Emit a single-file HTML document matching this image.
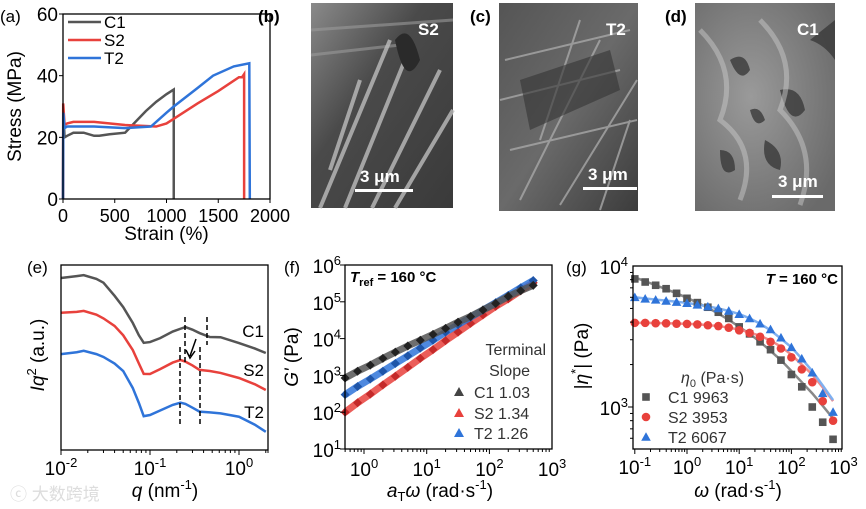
<!DOCTYPE html>
<html><head><meta charset="utf-8"><style>
html,body{margin:0;padding:0;background:#fff;}
svg{display:block;font-family:"Liberation Sans",Arial,sans-serif;}
</style></head><body>
<svg id="fig" width="866" height="509" viewBox="0 0 866 509" xmlns="http://www.w3.org/2000/svg">
<defs>
<linearGradient id="gb" x1="0" y1="0" x2="1" y2="1"><stop offset="0" stop-color="#8a8a8a"/><stop offset="0.4" stop-color="#4a4a4a"/><stop offset="1" stop-color="#3a3a3a"/></linearGradient>
<linearGradient id="gc" x1="0" y1="0" x2="1" y2="1"><stop offset="0" stop-color="#555"/><stop offset="0.5" stop-color="#6a6a6a"/><stop offset="1" stop-color="#3c3c3c"/></linearGradient>
<radialGradient id="gd" cx="0.4" cy="0.45" r="0.7"><stop offset="0" stop-color="#9a9a9a"/><stop offset="1" stop-color="#6a6a6a"/></radialGradient>
</defs>

<g>
<rect x="311" y="3" width="142" height="205" fill="url(#gb)"/>
<path d="M311 30 L453 20 M311 55 L400 45" stroke="#9a9a9a" stroke-width="3" opacity="0.6"/>
<path d="M320 208 L390 40 M345 208 L405 60 M372 208 L440 70 M395 208 L453 110 M330 170 L360 80" stroke="#bdbdbd" stroke-width="4" fill="none" opacity="0.8"/>
<path d="M395 40 Q410 20 420 60 Q405 90 395 40Z" fill="#2a2a2a"/>
<text x="418" y="35" fill="#fff" font-size="17" font-weight="bold">S2</text>
<text x="360" y="182" fill="#fff" font-size="17" font-weight="bold">3 μm</text>
<rect x="355" y="189" width="58" height="3" fill="#fff"/>
</g>
<text x="258" y="22" font-size="17" font-weight="bold">(b)</text>

<g>
<rect x="499" y="3" width="139" height="208" fill="url(#gc)"/>
<path d="M505 60 L630 30 M500 100 L620 70 M510 150 L637 120 M520 200 L600 40 M560 205 L637 80 M540 140 L580 20 M600 210 L630 120" stroke="#a8a8a8" stroke-width="2" fill="none" opacity="0.8"/>
<path d="M520 80 L610 50 L620 90 L530 130Z" fill="#333" opacity="0.6"/>
<text x="606" y="35" fill="#fff" font-size="17" font-weight="bold">T2</text>
<text x="588" y="180" fill="#fff" font-size="17" font-weight="bold">3 μm</text>
<rect x="583" y="187" width="54" height="3" fill="#fff"/>
</g>
<text x="470" y="22" font-size="17" font-weight="bold">(c)</text>

<g>
<rect x="695" y="3" width="140" height="208" fill="url(#gd)"/>
<path d="M730 60 q15 -10 20 10 q-10 15 -20 -10Z M780 90 q20 -5 25 20 q-15 20 -25 -20Z M720 150 q15 0 15 20 q-15 10 -15 -20Z M765 140 q20 10 15 30 q-20 -5 -15 -30Z M810 40 q15 5 25 20 l0 -40Z M750 110 q10 -5 15 10 q-10 10 -15 -10Z" fill="#3a3a3a" opacity="0.8"/>
<path d="M700 30 Q740 70 720 120 Q760 150 740 200 M760 20 Q800 60 780 110 Q820 150 800 205" stroke="#c8c8c8" stroke-width="5" fill="none" opacity="0.5"/>
<text x="797" y="35" fill="#fff" font-size="17" font-weight="bold">C1</text>
<text x="778" y="187" fill="#fff" font-size="17" font-weight="bold">3 μm</text>
<rect x="772" y="195" width="51" height="3" fill="#fff"/>
</g>
<text x="665" y="22" font-size="17" font-weight="bold">(d)</text>

<text x="10" y="500" font-size="17" fill="#ddd" font-family="'Liberation Sans','Noto Sans CJK SC',sans-serif">ⓒ 大数跨境</text>
</svg>
<script>
// ---------- Panel (a) data ----------
const aStrainC1 = [0,3,15,40,100,200,300,350,450,600,700,800,900,1000,1070,1070];
const aStressC1 = [0,28,20,20.5,21.5,21.5,20.5,20.5,21,21.5,25,28.5,31.5,34,35.5,0];
const aStrainS2 = [0,2,15,40,100,300,600,900,1000,1070,1300,1500,1700,1730,1750,1750];
const aStressS2 = [0,31,24,24.5,25,25,24,23.5,24.5,26,31,35,39.5,39.5,40.5,0];
const aStrainT2 = [0,3,15,40,300,600,850,1000,1070,1300,1450,1650,1800,1805];
const aStressT2 = [0,28,23,23.5,23.5,23,23.5,28,30,36,40,43,44,0];
const aXTicks = [0,500,1000,1500,2000];
const aYTicks = [0,20,40,60];
// ---------- Panel (e) data ----------
const eQ = [0.01,0.015,0.018,0.025,0.03,0.04,0.05,0.064,0.075,0.085,0.1,0.13,0.18,0.22,0.25,0.3,0.36,0.47,0.62,1.0,1.5,2.0];
const eC1 = [9.15,9.25,9.3,9.1,8.9,8.2,7.6,6.76,6.1,5.7,5.74,5.95,6.3,6.45,6.54,6.4,6.22,6.01,6.0,5.69,5.4,5.16];
const eS2 = [7.3,7.35,7.4,7.2,7.0,6.6,6.1,5.32,4.6,4.05,4.04,4.3,4.65,4.79,4.7,4.5,4.26,4.2,4.1,3.83,3.5,3.19];
const eT2 = [5.1,5.2,5.28,5.1,4.95,4.6,4.2,3.3,2.5,1.8,1.86,2.1,2.4,2.52,2.45,2.25,2.04,2.0,1.95,1.77,1.35,0.97];
const eXTickExp = [-2,-1,0];
// ---------- Panel (f) data ----------
const fW = [0.5,0.79,1.26,2,3.16,5,7.9,12.6,20,31.6,50,79,126,200,316,500];
const fC1 = [850,1300,1900,2900,4300,6300,9000,13000,19000,28000,40000,60000,90000,140000,200000,280000];
const fS2 = [100,180,310,550,950,1650,2900,5000,8800,15000,26000,44000,75000,120000,200000,330000];
const fT2 = [300,500,800,1300,2100,3400,5500,9000,15000,24000,38000,60000,95000,150000,240000,380000];
const fXTickExp = [0,1,2,3];
const fYTickExp = [1,2,3,4,5,6];
// ---------- Panel (g) data ----------
const gW = [0.1,0.158,0.251,0.398,0.631,1,1.58,2.51,3.98,6.31,10,15.8,25.1,39.8,63.1,100,158,251,398,628];
const gC1 = [8100,7700,7300,6900,6400,5900,5500,5100,4700,4250,3700,3300,2900,2550,2150,1700,1390,1000,780,590];
const gS2 = [3950,3950,3930,3920,3900,3880,3850,3800,3750,3650,3500,3350,3150,2900,2600,2250,1850,1500,1100,800];
const gT2 = [6000,5850,5750,5650,5550,5450,5300,5150,5000,4800,4550,4250,3900,3550,3100,2650,2200,1750,1250,920];
const gFitC1 = [8300,7800,7300,6850,6400,5950,5500,5050,4600,4150,3700,3300,2900,2500,2150,1800,1500,1250,1020,830];
const gFitS2 = [3950,3950,3940,3930,3910,3890,3860,3810,3750,3660,3540,3380,3200,2960,2680,2350,2000,1700,1380,1100];
const gFitT2 = [6000,5880,5780,5680,5580,5470,5330,5170,5000,4800,4560,4260,3900,3500,3050,2650,2200,1800,1420,1120];
const gXTickExp = [-1,0,1,2,3];
const gYTickExp = [3,4];

const NS = "http://www.w3.org/2000/svg";
const svg = document.getElementById('fig');
function mk(tag, attrs, parent){ const e=document.createElementNS(NS,tag); for(const k in attrs) e.setAttribute(k,attrs[k]); (parent||svg).appendChild(e); return e; }
function txt(x,y,s,attrs,parent){ const t=mk('text',Object.assign({x:x,y:y,'font-size':19},attrs||{}),parent); t.textContent=s; return t; }
function pow10(x,y,exp,anchor,parent){ const t=mk('text',{x:x,y:y,'font-size':19,'text-anchor':anchor},parent); t.appendChild(document.createTextNode('10')); const s=document.createElementNS(NS,'tspan'); s.setAttribute('dy','-8'); s.setAttribute('font-size','13'); s.textContent=String(exp); t.appendChild(s); return t; }
const GRAY='#555', RED='#e8413c', BLUE='#2f74d9';

// ===== Panel A =====
(function(){
 const g=mk('g',{});
 
 
 const L=63,R=270,T=14,B=199;
 const X=v=>L+v/2000*(R-L), Y=v=>B-v/60*(B-T);
 function line(xs,ys,c,name){ const p=mk('polyline',{points:xs.map((x,i)=>X(x)+','+Y(ys[i])).join(' '),fill:'none',stroke:c,'stroke-width':2.5},g);   }
 line(aStrainC1,aStressC1,GRAY,'series-c1');
 line(aStrainS2,aStressS2,RED,'series-s2');
 line(aStrainT2,aStressT2,BLUE,'series-t2');
 mk('rect',{x:L,y:T,width:R-L,height:B-T,fill:'none',stroke:'#000','stroke-width':1.3},g);
 aXTicks.forEach(v=>{ mk('line',{x1:X(v),x2:X(v),y1:B,y2:B+4,stroke:'#000'},g); const t=txt(X(v),B+23,String(v),{'text-anchor':'middle','font-size':18},g);   });
 aYTicks.forEach(v=>{ mk('line',{x1:L-4,x2:L,y1:Y(v),y2:Y(v),stroke:'#000'},g); const t=txt(L-5,Y(v)+7,String(v),{'text-anchor':'end'},g);   });
 const xl=txt((L+R)/2,240,'Strain (%)',{'text-anchor':'middle'},g);  
 const yl=txt(0,0,'Stress (MPa)',{'text-anchor':'middle',transform:'translate(21,'+((T+B)/2)+') rotate(-90)'},g);  
 const pl=txt(0,22,'(a)',{'font-size':17},g);  
 [['C1',GRAY,22],['S2',RED,40],['T2',BLUE,58]].forEach(([n,c,y])=>{ const le=mk('g',{},g);   mk('line',{x1:68,x2:101,y1:y,y2:y,stroke:c,'stroke-width':2.5},le); txt(104,y+6,n,{'font-size':17},le); });
})();

// ===== Panel E =====
(function(){
 const g=mk('g',{});
 
 
 const L=61,R=268,T=265,B=450;
 const X=q=>L+(Math.log10(q)+2)*89, Y=v=>B-v*18.8;
 [[eC1,GRAY,'series-c1'],[eS2,RED,'series-s2'],[eT2,BLUE,'series-t2']].forEach(([d,c,n])=>{ const p=mk('polyline',{points:eQ.map((q,i)=>X(q)+','+Y(d[i])).join(' '),fill:'none',stroke:c,'stroke-width':2.5},g);   });
 [[185,317,365],[207,317,345],[180,347,427],[200,347,427]].forEach(([x,y1,y2])=>{ const l=mk('line',{x1:x,x2:x,y1:y1,y2:y2,stroke:'#000','stroke-width':1.5,'stroke-dasharray':'5,3'},g);   });
 const ar=mk('path',{d:'M196 339 L190 356 M186 350 L190 358 L195 351',stroke:'#000','stroke-width':1.5,fill:'none'},g);  
 mk('rect',{x:L,y:T,width:R-L,height:B-T,fill:'none',stroke:'#000','stroke-width':1.3},g);
 for(let e=-2;e<=0;e++){ for(let m=1;m<10;m++){ const x=L+(e+2+Math.log10(m))*89; if(x>R+0.5) break; mk('line',{x1:x,x2:x,y1:B,y2:B+(m==1?5:3),stroke:'#000'},g);} }
 mk('line',{x1:R,x2:R,y1:B,y2:B+3,stroke:'#000'},g);
 eXTickExp.forEach(e=>{ const t=pow10(X(Math.pow(10,e)),B+25,e,'middle',g);   });
 [['C1',337],['S2',376],['T2',418]].forEach(([n,y])=>{ const t=txt(264,y,n,{'font-size':17,'text-anchor':'end'},g);   });
 const xl=mk('text',{x:165,y:497,'font-size':19,'text-anchor':'middle'},g); xl.innerHTML='<tspan font-style="italic">q</tspan> (nm<tspan dy="-8" font-size="13">-1</tspan><tspan dy="8">)</tspan>';
  
 const yl=mk('text',{'font-size':19,'text-anchor':'middle',transform:'translate(44,355) rotate(-90)'},g); yl.innerHTML='<tspan font-style="italic">Iq</tspan><tspan dy="-8" font-size="13">2</tspan><tspan dy="8"> (a.u.)</tspan>';
  
 const pl=txt(27,273,'(e)',{'font-size':17},g);  
})();

function marker(shape,x,y,c,parent,s){
 s=s||4;
 if(shape==='diamond') return mk('path',{d:`M${x} ${y-s} L${x+s} ${y} L${x} ${y+s} L${x-s} ${y}Z`,fill:c},parent);
 if(shape==='square') return mk('rect',{x:x-s,y:y-s,width:2*s,height:2*s,fill:c},parent);
 if(shape==='circle') return mk('circle',{cx:x,cy:y,r:s+0.5,fill:c},parent);
 return mk('path',{d:`M${x} ${y-s-1} L${x+s+1} ${y+s} L${x-s-1} ${y+s}Z`,fill:c},parent);
}

// ===== Panel F =====
(function(){
 const g=mk('g',{});
 
 
 const L=345,R=552,T=265,B=449;
 const X=w=>364+Math.log10(w)*62.7, Y=v=>B-(Math.log10(v)-1)*36.8;
 [[fS2,'#c42a2a',RED,'series-s2'],[fT2,'#1f55a8',BLUE,'series-t2'],[fC1,'#222',GRAY,'series-c1']].forEach(([d,dk,c,n])=>{
  const s=mk('g',{},g);  
  mk('polyline',{points:fW.map((w,i)=>X(w)+','+Y(d[i])).join(' '),fill:'none',stroke:c,'stroke-width':7,'stroke-linejoin':'round',opacity:0.85},s);
  fW.forEach((w,i)=>{ const m=marker('diamond',X(w),Y(d[i]),dk,s,4.5);   });
 });
 mk('rect',{x:L,y:T,width:R-L,height:B-T,fill:'none',stroke:'#000','stroke-width':1.3},g);
 for(let e=-1;e<3;e++) for(let m=1;m<10;m++){ const x=364+(e+Math.log10(m))*62.7; if(x<L||x>R) continue; mk('line',{x1:x,x2:x,y1:B,y2:B+(m==1?5:3),stroke:'#000'},g);}
 fXTickExp.forEach(e=>{ const t=pow10(X(Math.pow(10,e)),B+27,e,'middle',g);   });
 fYTickExp.forEach(e=>{ const y=Y(Math.pow(10,e)); mk('line',{x1:L-5,x2:L,y1:y,y2:y,stroke:'#000'},g); const t=pow10(L-4,y+8,e,'end',g);   });
 const tr=mk('text',{x:350,y:282,'font-size':15,'font-weight':'bold'},g); tr.innerHTML='<tspan font-style="italic">T</tspan><tspan font-size="11" dy="4">ref</tspan><tspan dy="-4"> = 160 °C</tspan>';
  
 const lt=txt(546,355,'Terminal',{'font-size':16,'text-anchor':'end',fill:'#333'},g);  
 txt(530,376,'Slope',{'font-size':16,'text-anchor':'end',fill:'#333'},g);
 [['C1 1.03','#444',398],['S2 1.34',RED,419],['T2 1.26',BLUE,439]].forEach(([n,c,y])=>{ const le=mk('g',{},g);   marker('tri',459,y-6,c,le,4); txt(474,y,n,{'font-size':16,fill:'#333'},le); });
 const xl=mk('text',{x:440,y:497,'font-size':19,'text-anchor':'middle'},g); xl.innerHTML='<tspan font-style="italic">a</tspan><tspan font-size="13" dy="4">T</tspan><tspan dy="-4" font-style="italic">ω</tspan> (rad·s<tspan dy="-8" font-size="13">-1</tspan><tspan dy="8">)</tspan>';
  
 const yl=mk('text',{'font-size':19,'text-anchor':'middle',transform:'translate(298,357) rotate(-90)'},g); yl.innerHTML='<tspan font-style="italic">G\'</tspan> (Pa)';
  
 const pl=txt(284,273,'(f)',{'font-size':17},g);  
})();

// ===== Panel G =====
(function(){
 const g=mk('g',{});
 
 
 const L=633,R=842,T=266,B=449;
 const X=w=>687+Math.log10(w)*52.2, Y=v=>407-(Math.log10(v)-3)*141;
 [[gFitC1,'#888','fit-c1'],[gFitS2,'#f08a8a','fit-s2'],[gFitT2,'#7fb0f0','fit-t2']].forEach(([d,c,n])=>{ const p=mk('polyline',{points:gW.map((w,i)=>X(w)+','+Y(d[i])).join(' '),fill:'none',stroke:c,'stroke-width':2.5},g);   });
 [[gC1,'square',GRAY,'series-c1'],[gS2,'circle',RED,'series-s2'],[gT2,'tri',BLUE,'series-t2']].forEach(([d,sh,c,n])=>{
  const s=mk('g',{},g);  
  gW.forEach((w,i)=>{ const m=marker(sh,X(w),Y(d[i]),c,s,3.8);   });
 });
 mk('rect',{x:L,y:T,width:R-L,height:B-T,fill:'none',stroke:'#000','stroke-width':1.3},g);
 for(let e=-1;e<3;e++) for(let m=1;m<10;m++){ const x=687+(e+Math.log10(m))*52.2; if(x<L-0.5||x>R) continue; mk('line',{x1:x,x2:x,y1:B,y2:B+(m==1?5:3),stroke:'#000'},g);}
 for(let e=2;e<4;e++) for(let m=1;m<10;m++){ const y=407-(e-3+Math.log10(m))*141; if(y<T-0.5||y>B) continue; mk('line',{x1:L-(m==1?5:3),x2:L,y1:y,y2:y,stroke:'#000'},g);}
 gXTickExp.forEach(e=>{ const t=pow10(X(Math.pow(10,e)),B+25,e,'middle',g);   });
 gYTickExp.forEach(e=>{ const t=pow10(L-5,Y(Math.pow(10,e))+8,e,'end',g);   });
 const tl=mk('text',{x:838,y:284,'font-size':15,'font-weight':'bold','text-anchor':'end'},g); tl.innerHTML='<tspan font-style="italic">T</tspan> = 160 °C';
  
 const lt=mk('text',{x:681,y:383,'font-size':16,fill:'#333'},g); lt.innerHTML='<tspan font-style="italic">η</tspan><tspan font-size="11" dy="4">0</tspan><tspan dy="-4"> (Pa·s)</tspan>';
  
 [['C1 9963','square',GRAY,403],['S2 3953','circle',RED,423],['T2 6067','tri',BLUE,443]].forEach(([n,sh,c,y])=>{ const le=mk('g',{},g);   marker(sh,646,y-6,c,le,3.8); txt(668,y,n,{'font-size':16,fill:'#333'},le); });
 const xl=mk('text',{x:738,y:497,'font-size':19,'text-anchor':'middle'},g); xl.innerHTML='<tspan font-style="italic">ω</tspan> (rad·s<tspan dy="-8" font-size="13">-1</tspan><tspan dy="8">)</tspan>';
  
 const yl=mk('text',{'font-size':19,'text-anchor':'middle',transform:'translate(588,356) rotate(-90)'},g); yl.innerHTML='|<tspan font-style="italic">η</tspan><tspan dy="-8" font-size="13">*</tspan><tspan dy="8">| (Pa)</tspan>';
  
 const pl=txt(566,273,'(g)',{'font-size':17},g);  
})();
</script>
</body></html>
